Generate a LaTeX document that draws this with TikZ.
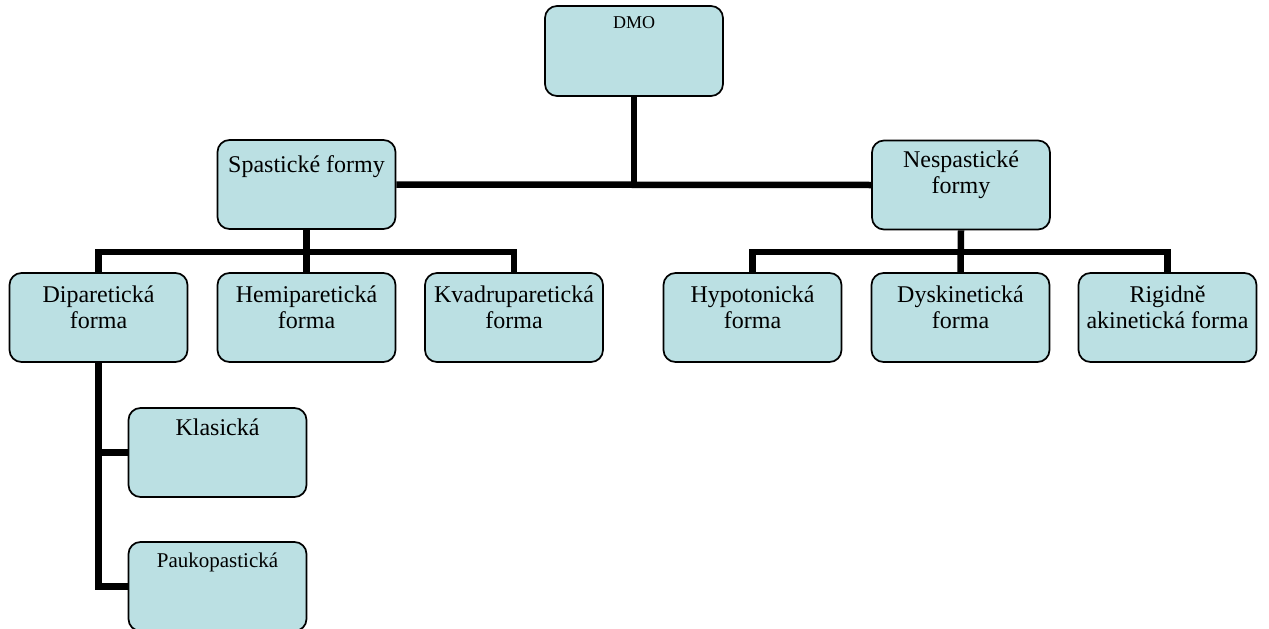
\documentclass[tikz,border=0pt]{standalone}
\usepackage{fontspec}
\setmainfont{Liberation Serif}
\usetikzlibrary{backgrounds}
\definecolor{boxfill}{RGB}{187,224,227}
\newcommand\lbl[1]{\parbox[t]{178pt}{\centering #1}}
\tikzset{
  box/.style={draw=black, line width=1.7pt, fill=boxfill, rounded corners=12pt,
              minimum width=178pt, minimum height=89pt, inner sep=0pt},
  txt/.style={anchor=base, inner sep=0pt, font=\fontsize{24}{26}\selectfont},
  conn/.style={draw=black, line width=6.5pt}
}
\begin{document}
\begin{tikzpicture}[x=1pt,y=-1pt]
\useasboundingbox (0,0) rectangle (1269,629);
% boxes
\node[box, minimum height=90pt] (dmo) at (634,51) {};
\node[box] (spast) at (306.5,184.5) {};
\node[box] (nesp) at (961,185) {};
\node[box] (dip) at (98.5,317.5) {};
\node[box] (hemi) at (306.5,317.5) {};
\node[box] (kvad) at (514,317.5) {};
\node[box] (hypo) at (752.5,317.5) {};
\node[box] (dysk) at (960.5,317.5) {};
\node[box] (rig) at (1167.5,317.5) {};
\node[box] (klas) at (217.5,452.5) {};
\node[box] (pauk) at (217.5,586.5) {};
% texts
\node[txt, font=\fontsize{18}{21}\selectfont] (tdmo) at (634,28) {\lbl{DMO}};
\node[txt] (tspast) at (306.5,172) {\lbl{Spastické formy}};
\node[txt] (tnesp) at (961,167) {\lbl{Nespastické\\formy}};
\node[txt] (tdip) at (98.5,302) {\lbl{Diparetická\\forma}};
\node[txt] (themi) at (306.5,302) {\lbl{Hemiparetická\\forma}};
\node[txt] (tkvad) at (514,302) {\lbl{Kvadruparetická\\forma}};
\node[txt] (thypo) at (752.5,302) {\lbl{Hypotonická\\forma}};
\node[txt] (tdysk) at (960.5,302) {\lbl{Dyskinetická\\forma}};
\node[txt] (trig) at (1167.5,302) {\lbl{Rigidně\\akinetická forma}};
\node[txt] (tklas) at (217.5,435) {\lbl{Klasická}};
\node[txt, font=\fontsize{21}{24}\selectfont] (tpauk) at (217.5,567) {\lbl{Paukopastická}};
% connectors
\coordinate (busL) at (306.5,252);
\coordinate (busR) at (961,252);
\begin{scope}[on background layer]
\draw[conn] (spast.east) -- (nesp.west);
\draw[conn] (dmo.south) -- (dmo.south |- spast.east);
\draw[conn] (spast.south) -- (hemi.north);
\draw[conn] (dip.north) |- (busL) -| (kvad.north);
\draw[conn] (nesp.south) -- (dysk.north);
\draw[conn] (hypo.north) |- (busR) -| (rig.north);
\draw[conn] (dip.south) |- (pauk.west);
\draw[conn] (dip.south |- klas.west) -- (klas.west);
\end{scope}
\end{tikzpicture}
\end{document}
